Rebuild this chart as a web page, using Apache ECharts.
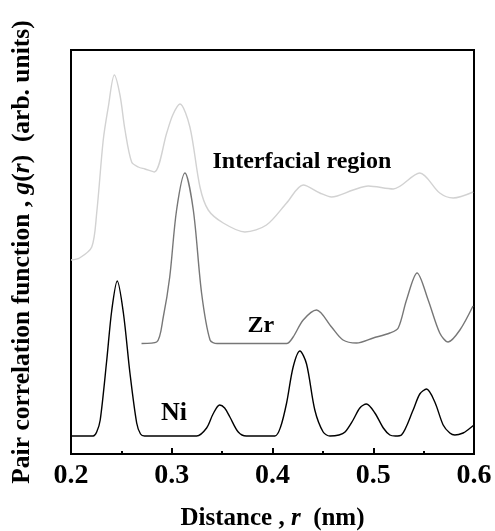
<!DOCTYPE html>
<html>
<head>
<meta charset="utf-8">
<script src="https://cdn.jsdelivr.net/npm/echarts@6/dist/echarts.min.js"></script>
<style>
  html, body { margin: 0; padding: 0; background: #fff; }
  #chart { width: 495px; height: 531px; }
</style>
</head>
<body>
<div id="chart"></div>
<script>
// distance r (nm) and g(r) in arbitrary units
const rNi = [0.200, 0.222, 0.2255, 0.229, 0.2355, 0.2405, 0.2459, 0.252, 0.2585, 0.2652, 0.269, 0.273,
  0.3247, 0.3346, 0.341, 0.3475, 0.3525, 0.3577, 0.366, 0.374,
  0.4024, 0.408, 0.414, 0.4205, 0.4272, 0.4338, 0.442, 0.4503, 0.457,
  0.466, 0.472, 0.480, 0.4867, 0.4933, 0.5016, 0.510, 0.5165, 0.522, 0.528,
  0.5396, 0.5462, 0.5529, 0.5611, 0.5694, 0.576, 0.581, 0.5892, 0.595, 0.600]
const gNi = [18, 18, 22, 34, 94, 144, 173, 141, 81, 31, 20, 18,
  18, 26, 40, 49, 46, 37, 22, 18,
  18, 27, 51, 87, 103, 90, 44, 22, 18,
  19, 22, 34, 46, 50, 41, 26, 19, 18, 19,
  44, 60, 65, 52, 29, 21, 19, 21, 25, 29]

const rZr = [0.270, 0.285, 0.2916, 0.298, 0.3048, 0.3131, 0.3214, 0.3296, 0.338, 0.345,
  0.414, 0.4205, 0.4305, 0.4437, 0.4586, 0.470, 0.4834, 0.500, 0.5165, 0.5248,
  0.533, 0.5435, 0.5545, 0.566, 0.5743, 0.586, 0.599]
const gZr = [110.5, 112, 137, 177, 244, 281, 244, 161, 114, 110.5,
  110.5, 117, 134, 144, 127, 114, 111, 116, 121, 126,
  154, 181, 154, 121, 112, 124, 148]

const rIf = [0.200, 0.2085, 0.2206, 0.2255, 0.232, 0.237, 0.243, 0.2486, 0.2536, 0.2602, 0.2668, 0.2734, 0.2827,
  0.295, 0.301, 0.3081, 0.318, 0.328, 0.3362, 0.3511, 0.3726, 0.394, 0.414, 0.4305,
  0.447, 0.4586, 0.480, 0.495, 0.5198, 0.5462, 0.566, 0.5793, 0.5992]
const gIf = [194, 196, 207, 241, 314, 347, 379, 359, 324, 292, 287, 285, 282,
  321, 339, 350, 327, 267, 244, 231, 222, 229, 251, 269,
  261, 257, 264, 268, 265, 281, 261, 256, 262]

const xTicks = [0.2, 0.3, 0.4, 0.5, 0.6]

const curveNames = ['Ni', 'Zr', 'Interfacial region']
const curveColors = ['#000000', '#777777', '#d2d2d2']
const labelAt = [[0.3022, 41], [0.3885, 128], [0.4292, 292]]

const pairs = (xs, ys) => xs.map((x, i) => [x, ys[i]])
const curves = [pairs(rNi, gNi), pairs(rZr, gZr), pairs(rIf, gIf)]

const serif = '"Liberation Serif", "Times New Roman", serif'

const chart = echarts.init(document.getElementById('chart'))

chart.setOption({
  backgroundColor: '#fff',
  animation: false,
  grid: {
    left: 71, right: 21, top: 50, bottom: 77,
    containLabel: false,
    outerBoundsMode: 'none',
    show: true, borderColor: '#000', borderWidth: 2, backgroundColor: 'transparent'
  },
  xAxis: {
    type: 'value',
    min: xTicks[0],
    max: xTicks[xTicks.length - 1],
    interval: 0.1,
    name: '{b|Distance , }{i|r}{b|  (nm)}',
    nameLocation: 'middle',
    nameGap: 52,
    nameTextStyle: {
      rich: {
        b: { fontFamily: serif, fontWeight: 'bold', fontSize: 25, color: '#000' },
        i: { fontFamily: serif, fontWeight: 'bold', fontStyle: 'italic', fontSize: 25, color: '#000' }
      }
    },
    axisLine: { show: true, lineStyle: { color: '#000', width: 2 } },
    axisTick: { show: true, inside: true, length: 6, lineStyle: { color: '#000', width: 2 } },
    minorTick: { show: true, splitNumber: 2, length: 3, lineStyle: { color: '#000', width: 2 } },
    axisLabel: {
      margin: 8,
      fontFamily: serif, fontWeight: 'bold', fontSize: 28, color: '#000',
      formatter: v => v.toFixed(1)
    },
    splitLine: { show: false }
  },
  yAxis: {
    type: 'value',
    min: 0,
    max: 404,
    name: '{b|Pair correlation function , }{i|g}{b|(}{i|r}{b|)  (arb. units)}',
    nameLocation: 'middle',
    nameGap: 36,
    nameTextStyle: {
      rich: {
        b: { fontFamily: serif, fontWeight: 'bold', fontSize: 25.5, color: '#000' },
        i: { fontFamily: serif, fontWeight: 'bold', fontStyle: 'italic', fontSize: 25.5, color: '#000' }
      }
    },
    axisLine: { show: true, lineStyle: { color: '#000', width: 2 } },
    axisTick: { show: false },
    axisLabel: { show: false },
    splitLine: { show: false }
  },
  series: curves.map((data, i) => ({
    name: curveNames[i],
    type: 'line',
    data: data,
    smooth: 0.3,
    showSymbol: false,
    lineStyle: { color: curveColors[i], width: 1.4 },
    z: 3 - i,
    markPoint: {
      symbol: 'circle',
      symbolSize: 0,
      data: [{ coord: labelAt[i], value: curveNames[i] }],
      label: {
        show: true,
        position: 'inside',
        formatter: curveNames[i],
        fontFamily: serif, fontWeight: 'bold', fontSize: i === 0 ? 26 : 24, color: '#000'
      }
    }
  }))
})

window.addEventListener('resize', () => chart.resize())
</script>
</body>
</html>
